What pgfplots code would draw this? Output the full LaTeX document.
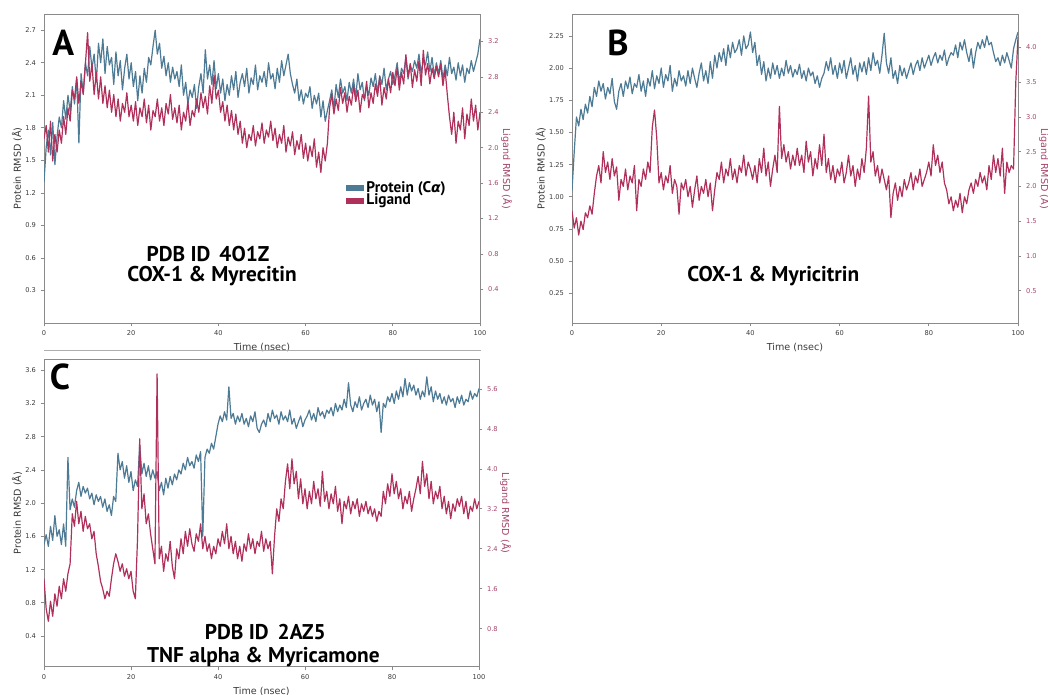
\documentclass[border=0pt]{standalone}
\usepackage{fontspec}
\setmainfont{DejaVu Sans}
\newfontfamily\headfont{PT Sans}
\newfontfamily\symfont{DejaVu Sans}
\usepackage{pgfplots}
\usepackage{pgfplotstable}
\pgfplotsset{compat=1.18}

\definecolor{protc}{HTML}{4D7A94}
\definecolor{ligc}{HTML}{B0305C}
\definecolor{ligtxt}{HTML}{A3456B}
\definecolor{framec}{HTML}{8A8A8A}
\definecolor{txtc}{HTML}{3A3A3A}

% protein / ligand RMSD, one value every 0.5 ns from 0 to 100 ns
\pgfplotstableread[row sep=\\]{y\\
1.30\\1.62\\1.78\\1.55\\1.85\\1.46\\1.72\\1.90\\1.80\\2.05\\1.88\\
2.10\\1.95\\2.18\\2.02\\2.25\\1.66\\2.30\\2.12\\2.40\\2.28\\
2.55\\2.35\\2.48\\2.22\\2.58\\2.40\\2.62\\2.30\\2.55\\2.38\\
2.45\\2.20\\2.50\\2.28\\2.42\\2.15\\2.35\\2.48\\2.25\\2.40\\
2.18\\2.32\\2.05\\2.28\\2.12\\2.35\\2.22\\2.45\\2.38\\2.55\\
2.70\\2.48\\2.58\\2.35\\2.46\\2.28\\2.40\\2.22\\2.36\\2.25\\
2.32\\2.18\\2.38\\2.10\\2.22\\2.02\\2.15\\2.08\\2.20\\1.98\\
2.18\\2.30\\2.12\\2.52\\2.25\\2.38\\2.20\\2.42\\2.16\\2.30\\
2.12\\2.25\\2.05\\2.20\\2.10\\2.28\\2.15\\2.32\\2.08\\2.22\\
2.30\\2.18\\2.35\\2.12\\2.26\\2.20\\2.38\\2.15\\2.28\\2.22\\
2.32\\2.18\\2.40\\2.25\\2.30\\2.16\\2.35\\2.22\\2.42\\2.28\\
2.38\\2.48\\2.30\\2.20\\2.12\\2.25\\2.05\\2.15\\2.02\\2.12\\
2.08\\2.18\\1.98\\2.10\\2.02\\2.12\\1.90\\2.05\\1.86\\1.96\\
2.05\\2.15\\1.98\\2.20\\2.08\\2.25\\2.12\\2.18\\2.05\\2.22\\
2.12\\2.25\\2.08\\2.30\\2.15\\2.22\\2.05\\2.18\\2.10\\2.26\\
2.18\\2.30\\2.12\\2.28\\2.20\\2.35\\2.15\\2.25\\2.32\\2.20\\
2.28\\2.40\\2.22\\2.35\\2.30\\2.45\\2.25\\2.38\\2.32\\2.42\\
2.35\\2.48\\2.30\\2.42\\2.38\\2.50\\2.32\\2.45\\2.28\\2.40\\
2.30\\2.42\\2.25\\2.38\\2.28\\2.45\\2.30\\2.36\\2.24\\2.40\\
2.28\\2.38\\2.22\\2.35\\2.30\\2.42\\2.32\\2.40\\2.48\\2.62\\
}\protA
\pgfplotstableread[row sep=\\]{y\\
2.10\\2.25\\1.95\\2.30\\1.85\\2.15\\1.95\\2.20\\2.05\\2.35\\2.15\\
2.45\\2.30\\2.65\\2.55\\2.80\\2.50\\2.75\\2.60\\2.95\\3.30\\
2.75\\2.95\\2.60\\2.85\\2.55\\2.80\\2.50\\2.70\\2.45\\2.65\\
2.40\\2.60\\2.35\\2.55\\2.30\\2.50\\2.40\\2.62\\2.35\\2.48\\
2.30\\2.52\\2.25\\2.45\\2.35\\2.55\\2.28\\2.48\\2.20\\2.42\\
2.35\\2.55\\2.30\\2.45\\2.25\\2.50\\2.38\\2.60\\2.32\\2.45\\
2.28\\2.48\\2.20\\2.40\\2.30\\2.52\\2.25\\2.42\\2.35\\2.55\\
2.40\\2.62\\2.45\\2.58\\2.38\\2.70\\2.50\\2.82\\2.55\\2.65\\
2.40\\2.52\\2.30\\2.48\\2.25\\2.42\\2.20\\2.38\\2.15\\2.30\\
2.05\\2.22\\2.00\\2.15\\2.08\\2.25\\2.02\\2.18\\2.10\\2.28\\
2.05\\2.20\\2.12\\2.30\\2.08\\2.22\\2.00\\2.15\\2.05\\2.25\\
1.95\\2.12\\2.02\\2.18\\1.92\\2.08\\1.98\\2.15\\1.88\\2.05\\
1.85\\2.02\\1.90\\2.10\\1.78\\1.95\\1.72\\2.00\\1.85\\2.05\\
2.45\\2.60\\2.38\\2.55\\2.42\\2.68\\2.50\\2.62\\2.40\\2.58\\
2.48\\2.70\\2.52\\2.65\\2.40\\2.60\\2.55\\2.75\\2.45\\2.62\\
2.50\\2.72\\2.58\\2.80\\2.48\\2.68\\2.55\\2.78\\2.62\\2.85\\
2.70\\2.90\\2.65\\2.85\\2.72\\3.05\\2.80\\2.95\\2.68\\2.88\\
2.75\\2.98\\2.70\\3.10\\2.82\\2.95\\2.72\\2.90\\2.78\\2.92\\
2.80\\2.95\\2.70\\2.88\\2.60\\2.35\\2.15\\2.40\\2.05\\2.30\\
2.20\\2.45\\2.10\\2.38\\2.25\\2.55\\2.30\\2.48\\2.20\\2.40\\
}\ligA
\pgfplotstableread[row sep=\\]{y\\
1.05\\1.35\\1.62\\1.55\\1.68\\1.60\\1.72\\1.65\\1.78\\1.70\\1.85\\
1.78\\1.90\\1.82\\1.88\\1.76\\1.85\\1.80\\1.92\\1.74\\1.68\\
1.82\\1.88\\1.78\\1.90\\1.84\\1.93\\1.80\\1.88\\1.85\\1.95\\
1.82\\1.90\\1.78\\1.92\\1.86\\1.98\\1.84\\1.94\\1.88\\2.00\\
1.85\\1.95\\1.90\\2.02\\1.82\\1.92\\1.86\\1.98\\1.90\\1.94\\
1.86\\1.98\\1.88\\2.00\\1.92\\1.85\\1.96\\2.04\\1.90\\1.98\\
1.88\\2.05\\1.92\\2.10\\2.00\\2.12\\2.05\\2.15\\2.02\\2.18\\
2.08\\2.20\\2.12\\2.15\\2.22\\2.10\\2.25\\2.15\\2.18\\2.28\\
2.12\\2.20\\2.02\\2.10\\1.95\\2.05\\1.90\\2.00\\1.92\\2.04\\
1.95\\2.02\\1.92\\2.00\\1.94\\2.06\\1.96\\2.02\\1.93\\1.99\\
1.95\\2.03\\1.92\\1.98\\1.90\\2.00\\1.94\\1.97\\1.88\\1.94\\
1.85\\1.92\\1.96\\2.05\\1.98\\2.08\\1.95\\2.02\\1.92\\2.04\\
1.96\\2.06\\1.92\\2.00\\2.08\\1.95\\2.02\\1.90\\2.04\\1.97\\
2.05\\1.95\\2.08\\1.98\\2.12\\2.02\\2.06\\1.96\\2.10\\2.27\\
2.04\\1.96\\2.08\\1.92\\1.98\\1.88\\2.02\\1.94\\2.00\\1.92\\
1.98\\2.04\\1.95\\2.02\\2.06\\1.98\\2.08\\2.00\\2.05\\2.10\\
2.02\\2.08\\2.12\\2.04\\2.10\\2.06\\2.14\\2.02\\2.08\\2.12\\
2.10\\2.18\\2.08\\2.20\\2.14\\2.22\\2.12\\2.05\\2.15\\2.00\\
2.12\\2.20\\2.15\\2.22\\2.16\\2.25\\2.18\\2.20\\2.12\\2.05\\
2.08\\2.02\\2.10\\2.04\\2.12\\2.06\\2.00\\2.15\\2.22\\2.28\\
}\protB
\pgfplotstableread[row sep=\\]{y\\
1.65\\1.40\\1.55\\1.30\\1.50\\1.38\\1.62\\1.55\\1.72\\1.60\\1.90\\
2.15\\2.30\\2.05\\2.50\\2.20\\2.35\\2.10\\2.40\\2.15\\2.28\\
1.80\\2.10\\2.00\\2.25\\1.95\\2.15\\2.05\\2.30\\1.65\\2.10\\
2.00\\2.25\\2.10\\2.35\\2.20\\2.85\\3.10\\2.70\\2.05\\2.20\\
1.95\\2.15\\2.05\\2.30\\1.90\\2.10\\2.00\\1.60\\2.05\\1.95\\
2.10\\1.85\\2.00\\1.70\\1.95\\2.15\\1.80\\2.00\\1.90\\2.10\\
1.85\\2.05\\1.65\\1.95\\2.20\\2.10\\2.35\\2.05\\2.25\\2.15\\
2.40\\2.10\\2.25\\2.05\\2.30\\2.20\\2.45\\2.15\\2.35\\2.25\\
2.10\\2.30\\2.05\\2.40\\2.20\\2.55\\2.15\\2.35\\2.00\\2.25\\
2.45\\2.20\\3.15\\2.40\\2.60\\2.35\\2.50\\2.25\\2.45\\2.30\\
2.55\\2.30\\2.45\\2.20\\2.65\\2.35\\2.50\\2.15\\2.40\\2.25\\
2.60\\2.30\\2.75\\2.20\\2.40\\2.10\\2.30\\2.05\\2.25\\2.15\\
2.35\\2.05\\2.20\\2.45\\2.15\\2.30\\2.00\\2.25\\2.10\\2.40\\
2.20\\2.55\\3.30\\2.35\\2.50\\2.15\\2.30\\2.05\\2.25\\2.10\\
1.95\\2.15\\1.55\\1.90\\2.05\\1.80\\2.00\\1.85\\2.10\\1.95\\
2.05\\2.20\\1.95\\2.15\\2.05\\2.25\\2.00\\2.10\\2.20\\2.35\\
2.15\\2.60\\2.30\\2.45\\2.20\\2.35\\2.05\\1.95\\1.75\\1.85\\
1.65\\1.80\\1.70\\1.90\\1.62\\1.85\\1.75\\1.95\\2.05\\1.90\\
2.10\\2.00\\2.20\\2.05\\2.15\\1.95\\2.30\\2.10\\2.45\\2.20\\
2.40\\2.15\\2.55\\1.90\\2.35\\2.20\\2.30\\2.25\\3.50\\4.15\\
}\ligB
\pgfplotstableread[row sep=\\]{y\\
1.50\\1.62\\1.48\\1.72\\1.55\\1.85\\1.60\\1.68\\1.50\\1.75\\1.48\\
2.55\\1.92\\2.05\\1.95\\2.15\\2.25\\2.08\\2.20\\2.12\\2.18\\
2.05\\2.12\\1.98\\2.10\\2.02\\2.08\\1.95\\2.05\\1.90\\1.98\\
1.85\\2.08\\2.02\\2.60\\2.40\\2.50\\2.30\\2.45\\2.25\\2.38\\
2.15\\2.28\\2.20\\2.70\\2.35\\2.48\\2.32\\2.45\\2.28\\2.40\\
2.30\\2.38\\2.15\\2.25\\2.10\\2.30\\2.18\\2.32\\2.22\\2.35\\
2.28\\2.40\\2.35\\2.48\\2.40\\2.55\\2.45\\2.50\\2.42\\2.58\\
2.50\\2.62\\1.60\\2.55\\2.65\\2.60\\2.72\\2.65\\2.80\\2.95\\
3.05\\2.98\\3.10\\3.00\\3.40\\3.02\\3.08\\2.95\\3.05\\2.98\\
3.08\\2.95\\3.02\\2.92\\3.05\\2.98\\3.10\\2.90\\2.85\\2.95\\
3.00\\2.92\\3.08\\2.98\\3.12\\3.02\\3.06\\2.95\\3.10\\3.00\\
3.05\\2.98\\3.12\\2.95\\3.02\\2.90\\2.98\\3.05\\2.92\\3.00\\
3.05\\3.12\\3.00\\3.08\\2.98\\3.15\\3.05\\3.10\\3.02\\3.12\\
3.08\\3.15\\3.05\\3.20\\3.10\\3.18\\3.12\\3.25\\3.15\\3.45\\
3.18\\3.10\\3.22\\3.15\\3.28\\3.12\\3.20\\3.25\\3.15\\3.30\\
3.18\\3.25\\3.10\\3.22\\2.85\\3.20\\3.15\\3.28\\3.22\\3.32\\
3.20\\3.35\\3.25\\3.40\\3.28\\3.50\\3.30\\3.45\\3.35\\3.42\\
3.30\\3.38\\3.25\\3.35\\3.28\\3.52\\3.30\\3.40\\3.22\\3.35\\
3.25\\3.32\\3.20\\3.28\\3.18\\3.30\\3.22\\3.26\\3.15\\3.28\\
3.20\\3.30\\3.18\\3.25\\3.22\\3.35\\3.25\\3.32\\3.28\\3.38\\
}\protC
\pgfplotstableread[row sep=\\]{y\\
1.80\\1.20\\0.95\\1.35\\1.05\\1.50\\1.25\\1.65\\1.40\\1.80\\1.55\\
1.90\\2.10\\3.10\\2.85\\3.35\\2.90\\3.15\\2.75\\3.05\\2.80\\
2.90\\2.60\\2.75\\2.30\\2.05\\1.75\\1.60\\1.40\\1.55\\1.45\\
1.80\\2.10\\2.30\\2.15\\1.95\\2.10\\1.85\\2.00\\1.80\\1.95\\
1.55\\1.40\\2.60\\4.60\\3.20\\3.50\\2.90\\3.10\\2.70\\2.40\\
2.10\\5.90\\2.20\\2.45\\1.95\\2.30\\2.15\\2.55\\2.05\\1.80\\
2.40\\2.20\\2.60\\2.30\\2.75\\2.45\\2.80\\2.50\\2.35\\2.70\\
2.55\\2.90\\2.40\\2.65\\2.35\\2.50\\2.20\\2.45\\2.30\\2.60\\
2.45\\2.75\\2.50\\2.90\\2.40\\2.65\\2.30\\2.55\\2.20\\2.45\\
2.15\\2.50\\2.35\\2.70\\2.40\\2.60\\2.30\\2.55\\2.45\\2.75\\
2.35\\2.60\\2.40\\2.55\\1.90\\2.65\\3.20\\2.95\\3.40\\3.20\\
3.75\\4.10\\3.60\\4.20\\3.70\\3.95\\3.40\\3.80\\3.30\\3.60\\
3.20\\3.55\\3.30\\3.75\\3.40\\3.60\\3.25\\3.95\\3.35\\3.55\\
3.20\\3.50\\3.30\\3.65\\3.15\\3.40\\2.90\\3.35\\3.20\\3.45\\
3.10\\3.35\\3.20\\3.40\\3.05\\3.30\\3.15\\3.35\\3.10\\3.25\\
3.05\\3.20\\2.95\\3.15\\3.05\\3.55\\3.30\\3.70\\3.45\\3.90\\
3.50\\3.75\\3.40\\3.60\\3.20\\3.45\\3.30\\3.55\\3.15\\3.40\\
3.60\\3.85\\3.50\\4.15\\3.65\\3.90\\3.40\\3.75\\3.30\\3.55\\
3.40\\3.65\\3.20\\3.45\\3.10\\3.35\\3.00\\3.30\\3.15\\3.40\\
3.25\\3.45\\3.10\\3.35\\3.00\\3.25\\3.15\\3.40\\3.20\\3.35\\
}\ligC

\newcommand\tickf{\fontsize{5}{6}\selectfont}
\newcommand\labf{\fontsize{7.2}{8.5}\selectfont}

\pgfplotsset{
  panel/.style={
    scale only axis, xmin=0, xmax=100, enlargelimits=false,
    axis line style={draw=framec, line width=0.6pt},
    tick style={draw=framec, line width=0.5pt},
    tick align=outside, major tick length=2.5pt,
    ticklabel style={font=\tickf, text=txtc},
    /pgf/number format/assume math mode=true,
    label style={font=\labf, text=txtc},
    every axis plot/.append style={line width=0.9pt, line join=round},
  },
  leftax/.style={panel, xtick={0,20,40,60,80,100}, xtick pos=bottom, ytick pos=left,
    xlabel={Time (nsec)}, ylabel={Protein RMSD (Å)}, ylabel shift=-4.5pt,
    xlabel shift=-1.5pt,
    xticklabel style={/pgf/number format/fixed}},
  rightax/.style={panel, axis x line=none, axis y line*=right,
    yticklabel style={text=ligtxt},
    ylabel={Ligand RMSD (Å)}, ylabel style={text=ligtxt, rotate=180},
    ylabel shift=-5pt},
}

\begin{document}
\begin{tikzpicture}
\path[use as bounding box] (0,0) rectangle (786pt,521.25pt);

% ---- panel A
\begin{axis}[leftax, at={(33pt,279pt)}, anchor=south west, width=327pt, height=231.75pt,
  ymin=0, ymax=2.85, ytick={0.3,0.6,0.9,1.2,1.5,1.8,2.1,2.4,2.7},
  yticklabel style={/pgf/number format/.cd, fixed, fixed zerofill, precision=1}]
\addplot[protc] table[x expr=\coordindex*0.5, y=y] {\protA};
\end{axis}
\begin{axis}[rightax, at={(33pt,279pt)}, anchor=south west, width=327pt, height=231.75pt,
  ymin=0.02, ymax=3.51, ytick={0.4,0.8,1.2,1.6,2.0,2.4,2.8,3.2},
  yticklabel style={/pgf/number format/.cd, fixed, fixed zerofill, precision=1},
  legend style={at={(0.693,0.46)}, anchor=north west, draw=none, fill=none,
    font=\headfont\bfseries\fontsize{11.5}{11.5}\selectfont, inner sep=0pt,
    row sep=0pt, nodes={inner xsep=2pt, inner ysep=0pt}},
  legend cell align=left]
\addlegendimage{area legend, draw=none, fill=protc, legend image code/.code={\fill[protc] (0pt,-2.6pt) rectangle (13pt,2.2pt);}}
\addlegendentry{Protein (C{\symfont\bfseries\itshape\fontsize{10.5}{11}\selectfont α})}
\addlegendimage{area legend, draw=none, fill=ligc, legend image code/.code={\fill[ligc] (0pt,-2.6pt) rectangle (13pt,2.2pt);}}
\addlegendentry{Ligand}
\addplot[ligc] table[x expr=\coordindex*0.5, y=y] {\ligA};
\end{axis}

% ---- panel B
\begin{axis}[leftax, at={(429pt,279pt)}, anchor=south west, width=334.5pt, height=231.75pt,
  ymin=0.02, ymax=2.42, ytick={0.25,0.5,0.75,1,1.25,1.5,1.75,2,2.25},
  yticklabel style={/pgf/number format/.cd, fixed, fixed zerofill, precision=2}]
\addplot[protc] table[x expr=\coordindex*0.5, y=y] {\protB};
\end{axis}
\begin{axis}[rightax, at={(429pt,279pt)}, anchor=south west, width=334.5pt, height=231.75pt,
  ymin=0.035, ymax=4.48, ytick={0.5,1,1.5,2,2.5,3,3.5,4},
  yticklabel style={/pgf/number format/.cd, fixed, fixed zerofill, precision=1}]
\addplot[ligc] table[x expr=\coordindex*0.5, y=y] {\ligB};
\end{axis}

% ---- panel C
\begin{axis}[leftax, at={(33pt,21.2pt)}, anchor=south west, width=326.25pt, height=230.5pt,
  ymin=0.03, ymax=3.73, ytick={0.4,0.8,1.2,1.6,2.0,2.4,2.8,3.2,3.6},
  yticklabel style={/pgf/number format/.cd, fixed, fixed zerofill, precision=1}]
\addplot[protc] table[x expr=\coordindex*0.5, y=y] {\protC};
\end{axis}
\begin{axis}[rightax, at={(33pt,21.2pt)}, anchor=south west, width=326.25pt, height=230.5pt,
  ymin=0.04, ymax=6.19, ytick={0.8,1.6,2.4,3.2,4.0,4.8,5.6},
  yticklabel style={/pgf/number format/.cd, fixed, fixed zerofill, precision=1}]
\addplot[ligc] table[x expr=\coordindex*0.5, y=y] {\ligC};
\end{axis}

\draw[framec!70, line width=0.5pt] (33pt,258.5pt) -- (361pt,258.5pt);

% ---- titles
\begin{scope}[every node/.style={font=\headfont\bfseries, text=black, inner sep=0pt}]
\node[font=\headfont\bfseries\fontsize{27}{27}\selectfont] at (47.5pt,489pt) {A};
\node[font=\headfont\bfseries\fontsize{27}{27}\selectfont] at (463.5pt,489pt) {B};
\node[font=\headfont\bfseries\fontsize{27}{27}\selectfont] at (45pt,238.5pt) {C};
\node[font=\headfont\bfseries\fontsize{16}{16}\selectfont] at (156pt,331pt) {PDB ID\, 4O1Z};
\node[font=\headfont\bfseries\fontsize{16}{16}\selectfont] at (159pt,314.5pt) {COX-1 \& Myrecitin};
\node[font=\headfont\bfseries\fontsize{16}{16}\selectfont] at (580pt,314.5pt) {COX-1 \& Myricitrin};
\node[font=\headfont\bfseries\fontsize{16}{16}\selectfont] at (199pt,47.5pt) {PDB ID\, 2AZ5};
\node[font=\headfont\bfseries\fontsize{16}{16}\selectfont] at (197.5pt,28.5pt) {TNF alpha \& Myricamone};
\end{scope}
\end{tikzpicture}
\end{document}
